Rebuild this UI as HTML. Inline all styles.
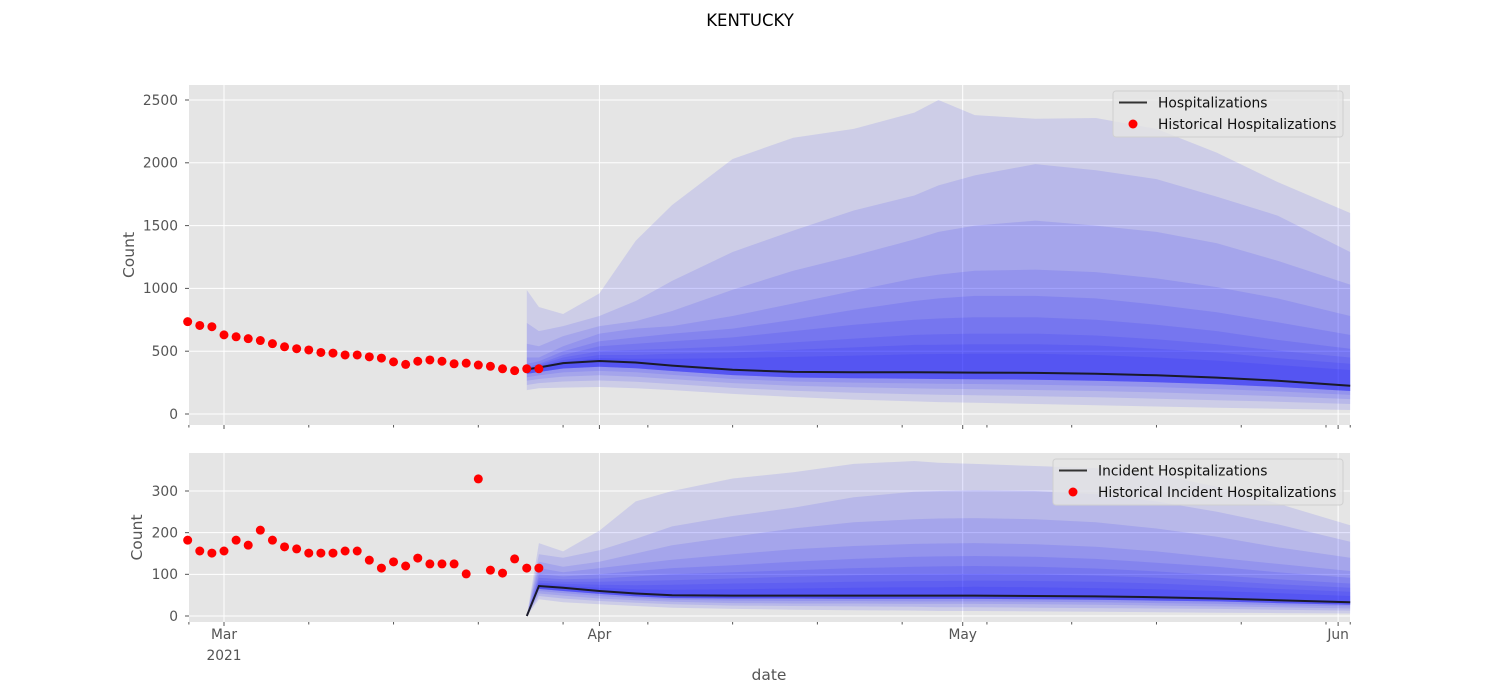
<!DOCTYPE html>
<html><head><meta charset="utf-8"><style>
body{margin:0;background:#fff;}
svg{display:block;font-family:"DejaVu Sans","Liberation Sans",sans-serif;}
</style></head><body>
<svg id="chart" width="1500" height="700" viewBox="0 0 1500 700">
<text x="750" y="26" text-anchor="middle" font-size="16.5" fill="#000">KENTUCKY</text>
<text x="769" y="680" text-anchor="middle" font-size="15.5" fill="#555">date</text>
</svg>
<script>
// ---- data (days since 2021-03-01) ----
const histDays = [-3,-2,-1,0,1,2,3,4,5,6,7,8,9,10,11,12,13,14,15,16,17,18,19,20,21,22,23,24,25,26];
const histHosp = [735,705,695,630,615,600,585,560,535,520,510,490,485,470,470,455,445,415,395,420,430,420,400,405,390,380,360,345,360,360];
const histInc = [182,156,151,156,182,170,206,182,166,161,151,151,151,156,156,134,115,130,120,139,125,125,125,101,329,110,103,137,115,115];
const fcDays = [25,26,28,31,34,37,42,47,52,57,59,62,67,72,77,82,87,93];
// top panel: median, upper quantile curves (outer -> inner), lower curves
const hospMedian = [355,370,405,422,410,385,352,335,332,332,331,330,327,320,308,290,265,225];
const hospU1 = [987,852,796,960,1380,1664,2030,2200,2270,2400,2500,2380,2350,2357,2270,2080,1847,1600];
const hospU2 = [725,660,700,780,900,1060,1290,1460,1620,1740,1820,1900,1990,1940,1870,1730,1580,1290];
const hospU3 = [560,540,620,700,740,820,990,1140,1260,1390,1450,1500,1540,1500,1450,1360,1220,1030];
const hospU4 = [450,450,540,640,680,700,780,880,980,1080,1110,1140,1150,1130,1080,1010,920,780];
const hospU5 = [400,420,500,580,610,640,680,750,830,900,920,940,940,920,870,810,730,630];
const hospU6 = [370,400,470,540,560,580,610,660,710,750,760,770,770,750,710,660,590,520];
const hospU7 = [360,390,450,500,510,520,540,570,600,630,635,640,640,625,595,555,505,450];
const hospU8 = [345,380,430,470,470,480,490,510,530,550,552,555,555,545,520,490,445,400];
const hospU9 = [335,370,415,445,440,440,445,455,465,475,478,480,480,470,450,425,390,350];
const hospL1 = [190,205,210,215,205,190,160,135,115,100,95,90,80,70,60,50,42,32];
const hospL2 = [231,246,259,267,256,239,208,185,169,158,154,150,142,133,122,110,98,80];
const hospL3 = [264,279,298,308,297,278,246,225,213,204,201,198,191,183,172,158,142,119];
const hospL4 = [292,307,331,343,332,311,279,259,250,244,241,239,233,225,214,199,180,152];
const hospL5 = [319,334,362,376,365,342,310,291,284,281,279,277,273,265,253,237,216,183];
// bottom panel
const incMedian = [0,72,68,60,54,50,49,49,49,49,49,49,48,47,45,42,38,33];
const incU1 = [0,175,155,205,275,300,330,345,365,372,368,365,360,355,340,310,270,218];
const incU2 = [0,148,140,158,185,215,240,260,285,298,300,302,300,292,275,250,220,178];
const incU3 = [0,130,118,130,150,170,190,210,225,232,234,235,232,225,210,190,165,140];
const incU4 = [0,115,105,115,125,135,148,160,168,173,174,175,172,166,155,140,125,108];
const incU5 = [0,100,95,100,108,115,122,130,137,142,143,144,142,137,128,118,105,92];
const incU6 = [0,92,88,90,95,100,105,110,115,118,119,120,118,114,107,98,88,78];
const incU7 = [0,85,82,82,84,86,90,94,98,100,100,101,100,97,92,85,76,68];
const incU8 = [0,80,77,75,74,75,78,80,82,84,84,85,84,82,78,72,65,58];
const incU9 = [0,76,73,68,64,63,64,66,68,69,69,70,69,67,64,60,55,48];
const incL1 = [0,40,33,28,24,20,17,15,14,13,12,12,11,10,9,8,7,6];
const incL2 = [0,48,42,36,32,28,25,24,23,22,21,21,20,19,18,17,15,13];
const incL3 = [0,54,49,42,38,34,31,30,30,29,29,29,28,27,25,23,21,18];
const incL4 = [0,60,55,48,43,39,37,36,36,35,35,35,34,33,31,29,26,23];
const incL5 = [0,65,60,53,47,43,42,42,41,41,41,41,40,39,37,35,31,27];
const hospTicks = [0,500,1000,1500,2000,2500];
const incTicks = [0,100,200,300];
const majorDays = [0,31,61,92];
const majorLabels = ["Mar","Apr","May","Jun"];
const minorDays = [-2.9,7,14,21,28,35,42,49,56,63,70,77,84,91,93];

const NS="http://www.w3.org/2000/svg";
const svg=document.getElementById('chart');
function mk(tag,attrs,parent){const e=document.createElementNS(NS,tag);for(const k in attrs)e.setAttribute(k,attrs[k]);(parent||svg).appendChild(e);return e;}
const X0=189,X1=1350;
const xs=d=>224+d*12.11;

function panel(cfg){
  const g=mk('g',{});
  
  
  const ys=v=>cfg.y0-v*cfg.k;
  const bg=mk('rect',{x:X0,y:cfg.top,width:X1-X0,height:cfg.bot-cfg.top,fill:'#e5e5e5'},g);
  
  
  cfg.ticks.forEach(t=>{
    const y=ys(t);
    const l=mk('line',{x1:X0,x2:X1,y1:y,y2:y,stroke:'#fff','stroke-width':1},g);
    
    
    const tl=mk('text',{x:X0-11,y:y+4.8,'text-anchor':'end','font-size':13.8,fill:'#555'},g);
    tl.textContent=t;
    
    
    mk('line',{x1:X0-4,x2:X0,y1:y,y2:y,stroke:'#555'},g);
  });
  majorDays.forEach((d,i)=>{
    const x=xs(d);
    const l=mk('line',{x1:x,x2:x,y1:cfg.top,y2:cfg.bot,stroke:'#fff','stroke-width':1},g);
    
    
    mk('line',{x1:x,x2:x,y1:cfg.bot,y2:cfg.bot+4,stroke:'#555'},g);
    if(cfg.labels){
      const t=mk('text',{x:x,y:cfg.bot+17,'text-anchor':'middle','font-size':13.8,fill:'#555'},g);
      t.textContent=majorLabels[i];
      
      
    }
  });
  if(cfg.labels){
    const t=mk('text',{x:xs(0),y:cfg.bot+38,'text-anchor':'middle','font-size':13.8,fill:'#555'},g);
    t.textContent='2021';
    
    
  }
  minorDays.forEach(d=>{const x=xs(d);mk('line',{x1:x,x2:x,y1:cfg.bot,y2:cfg.bot+2.5,stroke:'#555'},g);});
  cfg.bands.forEach((b,i)=>{
    let dstr='';
    fcDays.forEach((d,j)=>{dstr+=(j?'L':'M')+xs(d).toFixed(1)+','+ys(b[0][j]).toFixed(1);});
    for(let j=fcDays.length-1;j>=0;j--)dstr+='L'+xs(fcDays[j]).toFixed(1)+','+ys(b[1][j]).toFixed(1);
    const p=mk('path',{d:dstr+'Z',fill:'#0000ff','fill-opacity':0.1,stroke:'none'},g);
    
    
  });
  const pts=fcDays.map((d,j)=>xs(d).toFixed(1)+','+ys(cfg.median[j]).toFixed(1)).join(' ');
  const ml=mk('polyline',{points:pts,fill:'none',stroke:'#1a1a2a','stroke-width':2},g);
  
  
  histDays.forEach((d,j)=>{
    const c=mk('circle',{cx:xs(d),cy:ys(cfg.hist[j]),r:4.5,fill:'#ff0000'},g);
    
    
  });
  const cy=(cfg.top+cfg.bot)/2;
  const at=mk('text',{x:0,y:0,transform:`translate(${cfg.tx},${cy}) rotate(-90)`,'text-anchor':'middle','font-size':15.5,fill:'#555'},g);
  at.textContent='Count';
  
  
  const lg=mk('g',{},g);
  
  
  mk('rect',{x:cfg.lx,y:cfg.top+6,width:1343-cfg.lx,height:46,rx:3,fill:'#e5e5e5','fill-opacity':0.8,stroke:'#d0d0d0'},lg);
  mk('line',{x1:cfg.lx+6,x2:cfg.lx+34,y1:cfg.top+17.5,y2:cfg.top+17.5,stroke:'#333','stroke-width':2},lg);
  mk('circle',{cx:cfg.lx+20,cy:cfg.top+39,r:4.5,fill:'#ff0000'},lg);
  const t1=mk('text',{x:cfg.lx+45,y:cfg.top+22.5,'font-size':13.8,fill:'#111'},lg);t1.textContent=cfg.leg1;
  
  
  const t2=mk('text',{x:cfg.lx+45,y:cfg.top+44,'font-size':13.8,fill:'#111'},lg);t2.textContent=cfg.leg2;
  
  
}

panel({name:'hospitalizations-panel',top:85,bot:425,y0:414,k:0.1256,ticks:hospTicks,labels:false,tx:134,lx:1113,
  median:hospMedian,hist:histHosp,leg1:'Hospitalizations',leg2:'Historical Hospitalizations',
  bands:[[hospU1,hospL1],[hospU2,hospL2],[hospU3,hospL3],[hospU4,hospL4],[hospU5,hospL5],[hospU6,hospL5],[hospU7,hospL5],[hospU8,hospL5],[hospU9,hospL5]]});
panel({name:'incident-hospitalizations-panel',top:453,bot:622,y0:616,k:0.41667,ticks:incTicks,labels:true,tx:142,lx:1053,
  median:incMedian,hist:histInc,leg1:'Incident Hospitalizations',leg2:'Historical Incident Hospitalizations',
  bands:[[incU1,incL1],[incU2,incL2],[incU3,incL3],[incU4,incL4],[incU5,incL5],[incU6,incL5],[incU7,incL5],[incU8,incL5],[incU9,incL5]]});
</script>
</body></html>
